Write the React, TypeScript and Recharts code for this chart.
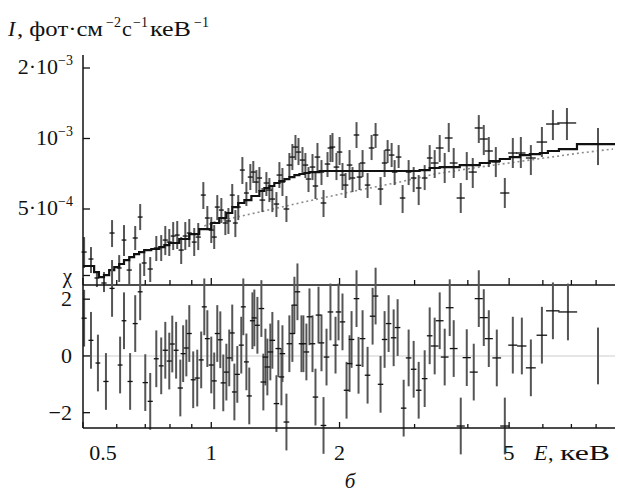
import React from 'react';
import { ComposedChart, Scatter, Line, XAxis, YAxis, ErrorBar, ReferenceLine } from 'recharts';

// Spectrum values are written in units of 1e-4 photons cm^-2 s^-1 keV^-1
const U = 1e-4;

const specE = [0.503,0.522,0.539,0.560,0.585,0.608,0.624,0.642,0.663,0.681,
  0.696,0.719,0.743,0.763,0.780,0.797,0.814,0.832,0.850,0.869,
  0.888,0.912,0.932,0.958,0.979,1.000,1.016,1.033,1.056,1.079,
  1.097,1.120,1.139,1.157,1.183,1.209,1.235,1.255,1.276,1.297,
  1.318,1.347,1.369,1.391,1.422,1.445,1.469,1.501,1.525,1.550,
  1.576,1.602,1.637,1.663,1.691,1.728,1.756,1.775,1.814,1.834,
  1.874,1.904,1.925,1.967,2.000,2.032,2.066,2.111,2.145,2.192,
  2.228,2.265,2.327,2.378,2.430,2.496,2.551,2.593,2.650,2.693,
  2.752,2.812,2.905,2.985,3.067,3.168,3.255,3.344,3.436,3.530,
  3.608,3.706,3.850,3.977,4.108,4.244,4.360,4.480,4.653,4.885,
  5.101,5.327,5.623,5.969,6.335,6.834,8.083];

const specI = [3.274,3.057,2.537,2.415,3.948,2.799,3.684,2.743,3.759,4.620,
  2.940,2.771,3.407,3.439,3.684,3.612,3.833,3.869,3.339,3.833,
  3.948,3.612,3.794,5.734,4.576,4.064,3.794,5.096,4.948,4.356,
  4.443,5.734,4.356,5.096,7.332,5.851,6.845,7.190,6.517,6.781,
  5.459,6.456,6.023,5.514,5.250,6.981,6.517,5.000,7.702,8.333,
  9.194,8.753,8.090,7.702,6.713,7.553,6.269,8.333,7.190,5.303,
  7.780,9.108,9.194,7.553,8.753,6.981,6.327,7.702,6.781,10.35,
  6.845,7.859,6.327,9.108,10.35,6.085,7.859,8.926,8.498,7.190,
  8.333,5.570,7.190,6.781,6.146,6.781,8.255,7.859,9.108,7.553,
  10.05,7.859,5.570,7.702,7.190,11.09,9.950,8.844,7.933,5.851,
  8.671,8.671,8.255,9.658,11.53,11.65,9.471];

const specHi = [3.794,3.439,2.718,2.690,4.484,3.178,4.269,3.088,4.230,5.250,
  3.339,3.117,3.833,3.869,4.230,4.106,4.398,4.443,3.794,4.398,
  4.530,4.147,4.356,6.517,5.149,4.620,4.269,5.734,5.570,4.903,
  5.049,6.391,4.948,5.734,8.333,6.517,7.780,8.016,7.332,7.553,
  6.146,7.190,6.781,6.204,5.906,7.933,7.482,5.681,8.671,9.471,
  10.35,10.05,9.194,8.671,7.553,8.584,7.123,9.567,8.090,6.023,
  8.753,10.35,10.56,8.671,10.15,7.859,7.123,8.926,7.553,11.75,
  7.859,8.926,7.123,10.35,11.65,6.845,8.926,9.849,9.567,8.090,
  9.376,6.327,8.090,7.553,6.981,7.702,9.376,8.926,10.35,8.671,
  11.65,9.108,6.456,8.753,8.255,12.59,11.42,10.15,9.194,6.781,
  10.05,10.15,9.376,11.20,13.23,13.50,11.09];

const specLo = [2.799,2.664,2.321,2.209,3.439,2.438,3.149,2.391,3.339,4.064,
  2.587,2.438,2.998,2.998,3.178,3.149,3.339,3.373,2.911,3.339,
  3.439,3.149,3.339,5.000,4.064,3.579,3.373,4.484,4.356,3.869,
  3.909,5.096,3.794,4.484,6.391,5.149,6.023,6.456,5.851,5.968,
  4.852,5.681,5.353,4.852,4.620,6.146,5.681,4.398,6.845,7.332,
  8.090,7.702,7.123,6.781,5.906,6.645,5.514,7.265,6.327,4.620,
  6.845,7.933,7.933,6.645,7.702,6.023,5.570,6.645,5.906,9.108,
  6.023,6.845,5.570,8.090,9.108,5.197,6.845,7.859,7.553,6.327,
  7.482,4.807,6.327,5.906,5.197,6.023,7.332,6.781,7.933,6.456,
  8.753,6.781,4.807,6.645,6.146,9.567,8.498,7.553,6.845,5.049,
  7.482,7.482,6.981,8.333,9.849,9.849,7.702];

const specDE = [0.007,0.007,0.007,0.008,0.008,0.008,0.008,0.009,0.009,0.009,
  0.009,0.010,0.010,0.010,0.011,0.011,0.011,0.011,0.012,0.012,
  0.012,0.012,0.013,0.013,0.013,0.014,0.014,0.014,0.014,0.015,
  0.015,0.015,0.015,0.016,0.016,0.016,0.017,0.017,0.017,0.019,
  0.020,0.020,0.021,0.021,0.021,0.022,0.022,0.023,0.023,0.023,
  0.024,0.024,0.025,0.025,0.025,0.026,0.026,0.027,0.027,0.028,
  0.028,0.029,0.029,0.030,0.030,0.030,0.031,0.032,0.032,0.033,
  0.033,0.034,0.035,0.036,0.036,0.037,0.038,0.039,0.040,0.040,
  0.041,0.042,0.044,0.045,0.046,0.048,0.049,0.070,0.072,0.074,
  0.076,0.078,0.085,0.088,0.090,0.093,0.096,0.099,0.110,0.120,
  0.125,0.135,0.150,0.170,0.230,0.350,0.700];

const modelE = [0.500,0.531,0.545,0.560,0.576,0.592,0.608,0.624,0.642,0.659,
  0.677,0.696,0.723,0.755,0.776,0.797,0.841,0.888,0.937,1.000,
  1.044,1.085,1.120,1.157,1.196,1.242,1.297,1.332,1.369,1.406,
  1.445,1.485,1.525,1.567,1.610,1.654,1.700,1.794,2.921,3.083,
  3.255,3.436,3.829,4.267,4.504,4.755,5.019,5.298,5.593,5.904,
  6.166,6.544,7.214,8.86];
const modelI = [2.855,2.690,2.560,2.611,2.743,2.825,2.911,3.027,3.117,3.211,
  3.274,3.339,3.373,3.439,3.507,3.579,3.722,3.909,4.106,4.356,
  4.576,4.807,5.096,5.303,5.459,5.681,5.968,6.146,6.269,6.456,
  6.584,6.713,6.845,6.981,7.052,7.123,7.190,7.265,7.265,7.332,
  7.482,7.553,7.702,7.859,8.016,8.173,8.333,8.498,8.584,8.671,
  8.844,9.017,9.471,9.471];

const contE = [0.963,1.016,1.297,1.610,2.111,2.767,3.344,4.267,5.593,7.332,8.767];
const contI = [4.230,4.398,4.852,5.303,5.906,6.517,7.052,7.553,8.090,8.671,9.017];

const resE = [0.503,0.522,0.542,0.566,0.585,0.611,0.624,0.645,0.663,0.681,
  0.700,0.719,0.743,0.763,0.780,0.797,0.810,0.827,0.846,0.859,
  0.874,0.888,0.907,0.927,0.947,0.963,0.979,1.000,1.016,1.033,
  1.050,1.067,1.085,1.102,1.120,1.133,1.151,1.176,1.189,1.209,
  1.228,1.249,1.262,1.283,1.311,1.325,1.340,1.354,1.376,1.391,
  1.422,1.437,1.461,1.469,1.501,1.525,1.550,1.567,1.593,1.628,
  1.645,1.672,1.700,1.728,1.756,1.785,1.814,1.834,1.864,1.904,
  1.957,1.989,2.032,2.077,2.111,2.134,2.192,2.216,2.265,2.327,
  2.391,2.430,2.496,2.551,2.607,2.679,2.737,2.828,2.905,2.985,
  3.067,3.168,3.255,3.344,3.436,3.530,3.627,3.706,3.850,3.977,
  4.130,4.244,4.360,4.480,4.678,4.885,5.101,5.356,5.623,5.969,
  6.335,6.871,8.083];

const resChi = [1.33,0.55,-0.25,-0.90,2.38,-0.32,1.24,-0.90,1.14,2.26,
  -0.94,-1.60,-0.10,-0.35,0.20,-0.18,0.42,0.20,-1.13,0.08,
  0.28,0.79,-0.84,-0.78,-0.14,1.73,0.61,-0.32,-0.88,0.79,
  0.57,-0.95,-0.57,-0.07,0.81,-1.27,-0.65,0.38,1.73,-0.21,
  -1.41,1.24,1.34,1.08,1.67,-0.92,-0.04,-0.39,0.14,0.55,
  -1.68,0.26,-0.74,0.08,-2.33,0.43,0.79,1.79,2.26,0.43,
  0.43,0.14,1.38,0.43,-1.45,1.44,0.46,-2.45,-0.04,1.55,
  0.38,1.55,1.20,-1.21,-0.27,0.58,2.02,-0.33,0.61,-0.68,
  1.40,2.11,-1.00,0.58,1.14,0.64,1.00,-1.84,-0.07,-0.47,
  -1.21,-0.80,0.71,0.35,1.24,-0.04,1.70,0.26,-2.47,-0.06,
  -0.57,2.02,1.35,0.61,-0.07,-2.47,0.38,0.35,-0.42,0.73,
  1.59,1.55,0.00];

const resDE = [0.007,0.007,0.007,0.008,0.008,0.008,0.008,0.009,0.009,0.009,
  0.010,0.010,0.010,0.010,0.011,0.011,0.011,0.011,0.012,0.012,
  0.012,0.012,0.012,0.013,0.013,0.013,0.013,0.014,0.014,0.014,
  0.014,0.015,0.015,0.015,0.015,0.015,0.016,0.016,0.016,0.016,
  0.017,0.017,0.017,0.017,0.020,0.020,0.020,0.020,0.021,0.021,
  0.021,0.022,0.022,0.022,0.023,0.023,0.023,0.024,0.024,0.024,
  0.025,0.025,0.026,0.026,0.026,0.027,0.027,0.028,0.028,0.029,
  0.029,0.030,0.030,0.031,0.032,0.032,0.033,0.033,0.034,0.035,
  0.036,0.036,0.037,0.038,0.039,0.040,0.041,0.042,0.044,0.045,
  0.046,0.048,0.049,0.070,0.072,0.074,0.076,0.078,0.085,0.088,
  0.090,0.093,0.096,0.099,0.110,0.120,0.125,0.135,0.150,0.170,
  0.230,0.350,0.000];
const RES_ERR = 1; // residuals are in units of sigma

const X_DOMAIN = [0.5, 8.86];
const X_TICKS = [0.5, 0.6, 0.7, 0.8, 0.9, 1, 2, 3, 4, 5, 6, 7, 8];
const X_LABELS = ['0.5', '', '', '', '', '1', '2', '', '', '5', '', '', ''];
const Y_TOP_DOMAIN = [2.368e-4, 2.273e-3];
const Y_TOP_TICKS = [2.6e-4, 5e-4, 1e-3, 2e-3];
const Y_TOP_LABELS: (string[] | null)[] = [null, ['5·10', '−4'], ['10', '−3'], ['2·10', '−3']];
const Y_RES_DOMAIN = [-2.54, 2.5];
const Y_RES_TICKS = [-2, 0, 2];
const Y_RES_LABELS = ['−2', '0', '2'];

const FONT = "'Liberation Serif', 'Times New Roman', serif";
const INK = '#111';
const TXT = { fontFamily: FONT };

const topTable = specE.map((e, k) => ({
  e,
  i: specI[k] * U,
  ey: [(specI[k] - specLo[k]) * U, (specHi[k] - specI[k]) * U],
  ex: specDE[k],
}));
const modelTable = modelE.map((e, k) => ({ e, m: modelI[k] * U }));
const contTable = contE.map((e, k) => ({ e, c: contI[k] * U }));
const resTable = resE.map((e, k) => ({ e, r: resChi[k], ey: RES_ERR, ex: resDE[k] }));

const Empty = () => <g />;

function TopXTick(props: any) {
  const { x, y, payload } = props;
  const idx = X_TICKS.indexOf(payload.value);
  const major = X_LABELS[idx] !== '';
  return <line x1={x} x2={x} y1={y} y2={y - (major ? 7 : 5)} stroke={INK} strokeWidth={1.3} />;
}

function BottomXTick(props: any) {
  const { x, y, payload } = props;
  const idx = X_TICKS.indexOf(payload.value);
  const lab = X_LABELS[idx];
  const major = lab !== '';
  return (
    <g>
      <line x1={x} x2={x} y1={y} y2={y - (major ? 6 : 4)} stroke={INK} strokeWidth={1.3} />
      {major && (
        <text x={x + (idx === 0 ? 20 : 0)} y={y + 32} textAnchor="middle" fontSize={22} style={TXT} fill={INK}>
          {lab}
        </text>
      )}
    </g>
  );
}

function TopYTick(props: any) {
  const { x, y, payload } = props;
  const idx = Y_TOP_TICKS.indexOf(payload.value);
  const lab = Y_TOP_LABELS[idx];
  return (
    <g>
      <line x1={x} x2={x + 7} y1={y} y2={y} stroke={INK} strokeWidth={1.3} />
      {lab && (
        <text x={x - 10} y={y + 6} textAnchor="end" fontSize={22} style={TXT} fill={INK}>
          <tspan>{lab[0]}</tspan>
          <tspan dy={-9} fontSize={14}>{lab[1]}</tspan>
        </text>
      )}
    </g>
  );
}

function ResYTick(props: any) {
  const { x, y, payload } = props;
  const idx = Y_RES_TICKS.indexOf(payload.value);
  return (
    <g>
      <line x1={x} x2={x + 7} y1={y} y2={y} stroke={INK} strokeWidth={1.3} />
      <text x={x - 11} y={y + 7} textAnchor="end" fontSize={22} style={TXT} fill={INK}>
        {Y_RES_LABELS[idx]}
      </text>
    </g>
  );
}

const axisLine = { stroke: INK, strokeWidth: 1.5 };

export default function App() {
  return (
    <div style={{ position: 'absolute', left: 0, top: 0, width: 618, height: 496, background: '#fff', overflow: 'hidden', fontFamily: FONT }}>
      <div style={{ position: 'absolute', left: 0, top: 0 }}>
        <ComposedChart width={618} height={300} margin={{ top: 55, right: 3, bottom: 0, left: 8 }}>
          <XAxis
            dataKey="e"
            type="number"
            scale="log"
            domain={X_DOMAIN}
            ticks={X_TICKS}
            allowDataOverflow
            interval={0}
            height={15}
            tickSize={0}
            tickMargin={0}
            tickLine={false}
            axisLine={axisLine}
            tick={(p: any) => <TopXTick {...p} />}
          />
          <YAxis
            type="number"
            scale="log"
            domain={Y_TOP_DOMAIN}
            ticks={Y_TOP_TICKS}
            allowDataOverflow
            interval={0}
            width={75}
            tickSize={0}
            tickMargin={0}
            tickLine={false}
            axisLine={axisLine}
            tick={(p: any) => <TopYTick {...p} />}
          />
          <Line
            data={contTable}
            dataKey="c"
            type="linear"
            stroke="#8c8c8c"
            strokeWidth={1.6}
            strokeDasharray="2 3"
            dot={false}
            isAnimationActive={false}
          />
          <Scatter data={topTable} dataKey="i" shape={Empty} isAnimationActive={false}>
            <ErrorBar dataKey="ey" direction="y" width={0} stroke="#555" strokeWidth={2} isAnimationActive={false} />
            <ErrorBar dataKey="ex" direction="x" width={0} stroke={INK} strokeWidth={1.3} isAnimationActive={false} />
          </Scatter>
          <Line
            data={modelTable}
            dataKey="m"
            type="stepAfter"
            stroke={INK}
            strokeWidth={2.2}
            dot={false}
            isAnimationActive={false}
          />
        </ComposedChart>
      </div>
      <div style={{ position: 'absolute', left: 0, top: 0 }}>
        <ComposedChart width={618} height={496} margin={{ top: 285, right: 3, bottom: 38, left: 8 }}>
          <XAxis
            dataKey="e"
            type="number"
            scale="log"
            domain={X_DOMAIN}
            ticks={X_TICKS}
            allowDataOverflow
            interval={0}
            height={30}
            tickSize={0}
            tickMargin={0}
            tickLine={false}
            axisLine={axisLine}
            tick={(p: any) => <BottomXTick {...p} />}
          />
          <YAxis
            type="number"
            domain={Y_RES_DOMAIN}
            ticks={Y_RES_TICKS}
            allowDataOverflow
            interval={0}
            width={75}
            tickSize={0}
            tickMargin={0}
            tickLine={false}
            axisLine={axisLine}
            tick={(p: any) => <ResYTick {...p} />}
          />
          <ReferenceLine y={0} stroke="#dedede" strokeWidth={1.5} />
          <Scatter data={resTable} dataKey="r" shape={Empty} isAnimationActive={false}>
            <ErrorBar dataKey="ey" direction="y" width={0} stroke="#555" strokeWidth={2} isAnimationActive={false} />
            <ErrorBar dataKey="ex" direction="x" width={0} stroke={INK} strokeWidth={1.3} isAnimationActive={false} />
          </Scatter>
        </ComposedChart>
      </div>
      <svg width={618} height={496} style={{ position: 'absolute', left: 0, top: 0, pointerEvents: 'none' }}>
        <g fontSize={22} style={TXT} fill={INK}>
          <text x={8} y={36} fontStyle="italic">I</text>
          <text x={17} y={36} textLength={86} lengthAdjust="spacingAndGlyphs">, фот·см</text>
          <text x={106} y={27} fontSize={14}>−2</text>
          <text x={122} y={36}>с</text>
          <text x={133} y={27} fontSize={14}>−1</text>
          <text x={150} y={36} textLength={41} lengthAdjust="spacingAndGlyphs">кеВ</text>
          <text x={194} y={27} fontSize={14}>−1</text>
        </g>
        <text x={72} y={283} textAnchor="end" fontSize={21} style={TXT} fill={INK}>χ</text>
        <g fontSize={22} style={TXT} fill={INK}>
          <text x={534} y={460} fontStyle="italic">E</text>
          <text x={548} y={460}>,</text>
          <text x={560} y={460} textLength={50} lengthAdjust="spacingAndGlyphs">кеВ</text>
        </g>
        <text x={350} y={488} textAnchor="middle" fontSize={21} fontStyle="italic" style={TXT} fill={INK}>б</text>
      </svg>
    </div>
  );
}
